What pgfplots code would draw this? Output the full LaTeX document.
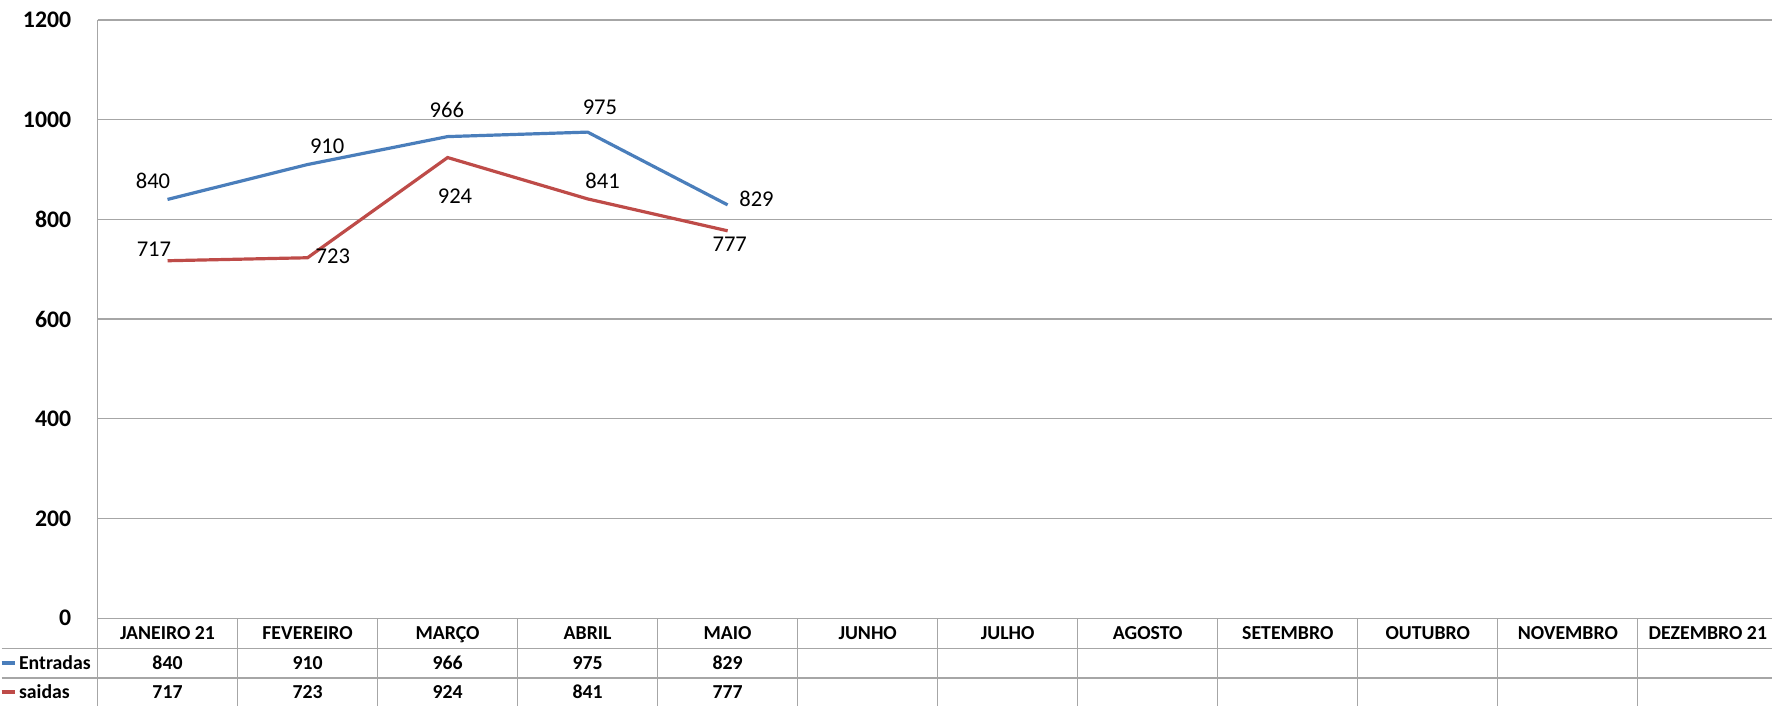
\documentclass[border=0pt]{standalone}
\usepackage{pgfplots}
\pgfplotsset{compat=1.18}
\usepackage{fontspec}
\setmainfont{Carlito}
\definecolor{eblue}{HTML}{4A7EBB}
\definecolor{sred}{HTML}{BE4B48}
\definecolor{gridc}{HTML}{A6A6A6}
\tikzset{
  tbl/.style={font=\fontsize{9.9}{10}\selectfont\bfseries, anchor=center, inner sep=0pt, text height=0.63em, text depth=0pt},
  dl/.style={font=\fontsize{11.3}{12}\selectfont, anchor=center, inner sep=0pt, text height=0.63em, text depth=0pt},
}
\begin{document}
\begin{tikzpicture}
\begin{axis}[
  scale only axis, width=838.5pt, height=299.5pt,
  xmin=-0.5, xmax=11.461, ymin=0, ymax=1200,
  ytick={0,200,...,1200},
  xtick={0,1,2,3,4,5,6,7,8,9,10,11},
  xticklabels={JANEIRO 21,FEVEREIRO,MARÇO,ABRIL,MAIO,JUNHO,JULHO,AGOSTO,SETEMBRO,OUTUBRO,NOVEMBRO,DEZEMBRO 21},
  ymajorgrids, grid style={gridc, line width=0.6pt},
  axis line style={draw=none},
  major tick length=0pt,
  clip=false,
  /pgf/number format/1000 sep={},
  /pgf/number format/assume math mode=true,
  yticklabel style={font=\fontsize{11.9}{12}\selectfont\bfseries, anchor=east, inner sep=0pt, xshift=-13pt},
  xticklabel style={font=\fontsize{9.9}{10}\selectfont\bfseries, anchor=center, inner sep=0pt, text height=0.63em, text depth=0pt, yshift=-7.5pt},
]
% invisible frame fixing the picture size
\path (axis cs:-1.185,1240) rectangle (axis cs:11.461,-176);
% left axis line and table lines
\draw[gridc, line width=0.6pt] (axis cs:-0.5,1200) -- (axis cs:-0.5,-176);
\draw[gridc, line width=0.6pt] (axis cs:-1.185,-60) -- (axis cs:11.461,-60);
\draw[gridc, line width=0.6pt] (axis cs:-1.185,-120) -- (axis cs:11.461,-120);
\draw[gridc, line width=0.6pt] (axis cs:0.5,0) -- (axis cs:0.5,-176);
\draw[gridc, line width=0.6pt] (axis cs:1.5,0) -- (axis cs:1.5,-176);
\draw[gridc, line width=0.6pt] (axis cs:2.5,0) -- (axis cs:2.5,-176);
\draw[gridc, line width=0.6pt] (axis cs:3.5,0) -- (axis cs:3.5,-176);
\draw[gridc, line width=0.6pt] (axis cs:4.5,0) -- (axis cs:4.5,-176);
\draw[gridc, line width=0.6pt] (axis cs:5.5,0) -- (axis cs:5.5,-176);
\draw[gridc, line width=0.6pt] (axis cs:6.5,0) -- (axis cs:6.5,-176);
\draw[gridc, line width=0.6pt] (axis cs:7.5,0) -- (axis cs:7.5,-176);
\draw[gridc, line width=0.6pt] (axis cs:8.5,0) -- (axis cs:8.5,-176);
\draw[gridc, line width=0.6pt] (axis cs:9.5,0) -- (axis cs:9.5,-176);
\draw[gridc, line width=0.6pt] (axis cs:10.5,0) -- (axis cs:10.5,-176);
% series
\addplot[eblue, line width=1.6pt] coordinates {(0,840) (1,910) (2,966) (3,975) (4,829)};
\addplot[sred, line width=1.6pt] coordinates {(0,717) (1,723) (2,924) (3,841) (4,777)};
% data labels
\node[dl] at (axis cs:-0.104,874) {840};
\node[dl] at (axis cs:1.14,945) {910};
\node[dl] at (axis cs:1.995,1016) {966};
\node[dl] at (axis cs:3.088,1022) {975};
\node[dl] at (axis cs:4.206,838) {829};
\node[dl] at (axis cs:-0.097,738) {717};
\node[dl] at (axis cs:1.181,724) {723};
\node[dl] at (axis cs:2.053,844) {924};
\node[dl] at (axis cs:3.107,874) {841};
\node[dl] at (axis cs:4.015,748) {777};
% data table legend keys
\draw[eblue, line width=1.6pt] (axis cs:-1.185,-90) -- (axis cs:-1.092,-90);
\draw[sred, line width=1.6pt] (axis cs:-1.185,-148) -- (axis cs:-1.092,-148);
\node[tbl, anchor=west] at (axis cs:-1.063,-90) {Entradas};
\node[tbl, anchor=west] at (axis cs:-1.063,-148) {saidas};
% data table values
\node[tbl] at (axis cs:0,-90) {840};
\node[tbl] at (axis cs:1,-90) {910};
\node[tbl] at (axis cs:2,-90) {966};
\node[tbl] at (axis cs:3,-90) {975};
\node[tbl] at (axis cs:4,-90) {829};
\node[tbl] at (axis cs:0,-148) {717};
\node[tbl] at (axis cs:1,-148) {723};
\node[tbl] at (axis cs:2,-148) {924};
\node[tbl] at (axis cs:3,-148) {841};
\node[tbl] at (axis cs:4,-148) {777};
\end{axis}
\end{tikzpicture}
\end{document}
